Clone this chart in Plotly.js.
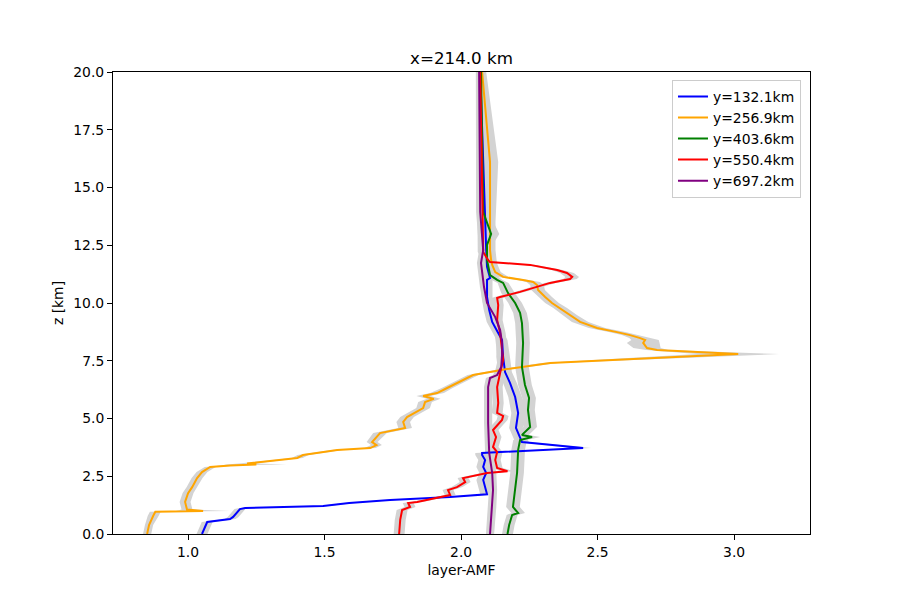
<!DOCTYPE html>
<html>
<head>
<meta charset="utf-8">
<script src="https://cdn.plot.ly/plotly-3.0.1.min.js"></script>
<style>html,body{margin:0;padding:0;background:#fff;}#chart{width:900px;height:600px;}</style>
</head>
<body>
<div id="chart"></div>
<script>
// ---- data ----
const seriesNames = ["y=132.1km", "y=256.9km", "y=403.6km", "y=550.4km", "y=697.2km"];
const seriesColors = ["blue", "orange", "green", "red", "purple"];

// y=132.1km
const blueZ = [0, 0.52, 0.65, 0.74, 1.08, 1.13, 1.21, 1.34, 1.47, 1.60, 1.72, 1.99, 2.34, 2.64, 2.90, 3.20, 3.42, 3.51, 3.72, 3.98, 4.37, 4.59, 5.24, 5.93, 6.54, 7.01, 7.66, 8.40, 8.70, 9.18, 9.70, 10.26, 11.00, 11.08, 11.56, 12.29, 20.0];
const blueAMF = [1.051, 1.070, 1.154, 1.165, 1.190, 1.209, 1.495, 1.590, 1.740, 1.960, 2.095, 2.088, 2.081, 2.092, 2.081, 2.088, 2.077, 2.077, 2.447, 2.223, 2.210, 2.201, 2.209, 2.198, 2.179, 2.161, 2.154, 2.150, 2.136, 2.114, 2.103, 2.095, 2.095, 2.106, 2.095, 2.092, 2.070];
const blueStd = [0.02, 0.02, 0.02, 0.02, 0.02, 0.02, 0.02, 0.02, 0.02, 0.02, 0.025, 0.025, 0.025, 0.025, 0.025, 0.025, 0.025, 0.025, 0.03, 0.025, 0.025, 0.025, 0.025, 0.025, 0.025, 0.025, 0.025, 0.02, 0.02, 0.02, 0.02, 0.02, 0.02, 0.02, 0.02, 0.02, 0.015];

// y=256.9km
const orangeZ = [0, 0.39, 0.78, 0.96, 1.00, 1.06, 1.39, 1.77, 2.03, 2.42, 2.68, 2.90, 2.97, 3.01, 3.05, 3.16, 3.29, 3.42, 3.64, 3.72, 3.85, 3.98, 4.37, 4.59, 4.85, 5.06, 5.45, 5.71, 5.85, 5.97, 6.10, 6.32, 6.88, 7.01, 7.14, 7.40, 7.79, 7.97, 8.05, 8.27, 8.40, 8.48, 8.61, 8.74, 8.92, 9.18, 9.48, 9.78, 10.00, 10.26, 10.56, 10.78, 10.91, 11.00, 11.13, 11.34, 11.65, 11.86, 12.29, 13.51, 16.10, 20.0];
const orangeAMF = [0.850, 0.857, 0.872, 0.880, 1.055, 0.996, 0.989, 1.000, 1.015, 1.033, 1.051, 1.081, 1.154, 1.250, 1.216, 1.300, 1.400, 1.421, 1.546, 1.667, 1.690, 1.674, 1.703, 1.795, 1.788, 1.802, 1.861, 1.868, 1.900, 1.861, 1.912, 1.949, 2.044, 2.106, 2.168, 2.326, 3.015, 2.718, 2.681, 2.667, 2.674, 2.656, 2.619, 2.571, 2.498, 2.436, 2.399, 2.363, 2.333, 2.308, 2.282, 2.278, 2.264, 2.227, 2.154, 2.125, 2.114, 2.110, 2.106, 2.106, 2.106, 2.077];
const orangeStd = [0.015, 0.015, 0.02, 0.02, 0.10, 0.02, 0.02, 0.02, 0.02, 0.02, 0.02, 0.02, 0.03, 0.11, 0.03, 0.02, 0.02, 0.02, 0.02, 0.02, 0.02, 0.02, 0.025, 0.025, 0.025, 0.025, 0.025, 0.025, 0.025, 0.025, 0.025, 0.02, 0.02, 0.02, 0.02, 0.03, 0.15, 0.04, 0.05, 0.06, 0.05, 0.04, 0.03, 0.03, 0.03, 0.03, 0.025, 0.025, 0.025, 0.025, 0.025, 0.025, 0.025, 0.02, 0.02, 0.02, 0.02, 0.02, 0.02, 0.02, 0.03, 0.015];

// y=403.6km
const greenZ = [0, 0.39, 0.82, 0.91, 1.17, 1.90, 2.64, 3.64, 4.07, 4.20, 4.29, 4.63, 5.37, 5.89, 6.45, 7.23, 8.27, 9.13, 9.57, 10.00, 10.43, 10.87, 11.00, 11.21, 11.86, 12.51, 12.99, 13.94, 20.0];
const greenAMF = [2.170, 2.176, 2.187, 2.209, 2.190, 2.198, 2.205, 2.209, 2.216, 2.260, 2.223, 2.253, 2.245, 2.249, 2.234, 2.223, 2.227, 2.223, 2.216, 2.198, 2.172, 2.154, 2.132, 2.106, 2.095, 2.095, 2.110, 2.081, 2.073];
const greenStd = [0.02, 0.02, 0.02, 0.025, 0.025, 0.025, 0.025, 0.025, 0.025, 0.03, 0.025, 0.025, 0.025, 0.025, 0.025, 0.025, 0.025, 0.025, 0.025, 0.025, 0.025, 0.02, 0.02, 0.02, 0.02, 0.02, 0.03, 0.02, 0.015];

// y=550.4km
const redZ = [0, 0.61, 1.04, 1.17, 1.34, 1.39, 1.69, 1.90, 2.03, 2.25, 2.42, 2.55, 2.64, 2.72, 2.86, 3.20, 3.55, 3.77, 4.20, 4.50, 4.94, 5.11, 5.24, 5.67, 6.36, 6.97, 7.53, 7.97, 8.70, 9.26, 9.91, 10.22, 10.26, 10.48, 10.69, 10.87, 11.04, 11.13, 11.30, 11.43, 11.65, 11.77, 11.86, 12.21, 20.0];
const redAMF = [1.773, 1.777, 1.784, 1.813, 1.806, 1.839, 1.960, 1.952, 1.985, 2.015, 2.007, 2.059, 2.095, 2.170, 2.132, 2.125, 2.132, 2.117, 2.128, 2.117, 2.150, 2.154, 2.132, 2.136, 2.132, 2.143, 2.154, 2.150, 2.143, 2.132, 2.136, 2.132, 2.143, 2.216, 2.278, 2.326, 2.399, 2.407, 2.388, 2.352, 2.253, 2.106, 2.099, 2.081, 2.070];
const redStd = [0.02, 0.02, 0.02, 0.02, 0.02, 0.02, 0.02, 0.02, 0.02, 0.02, 0.02, 0.02, 0.02, 0.025, 0.02, 0.02, 0.02, 0.02, 0.02, 0.02, 0.02, 0.02, 0.02, 0.02, 0.02, 0.02, 0.02, 0.02, 0.02, 0.02, 0.02, 0.02, 0.02, 0.02, 0.02, 0.02, 0.025, 0.025, 0.025, 0.02, 0.02, 0.02, 0.02, 0.02, 0.015];

// y=697.2km
const purpleZ = [0, 1.17, 1.90, 2.64, 3.51, 4.81, 6.36, 6.75, 6.88, 7.23, 7.75, 8.27, 8.83, 9.39, 9.78, 10.00, 10.69, 11.30, 11.73, 12.29, 13.94, 20.0];
const purpleAMF = [2.106, 2.114, 2.117, 2.114, 2.103, 2.099, 2.099, 2.106, 2.132, 2.147, 2.150, 2.150, 2.143, 2.125, 2.106, 2.095, 2.084, 2.077, 2.073, 2.081, 2.070, 2.066];
const purpleStd = [0.015, 0.015, 0.015, 0.015, 0.015, 0.015, 0.015, 0.015, 0.015, 0.015, 0.015, 0.015, 0.015, 0.015, 0.015, 0.015, 0.015, 0.015, 0.015, 0.015, 0.015, 0.012];

const xTicks = [1.0, 1.5, 2.0, 2.5, 3.0];
const yTicks = [0, 2.5, 5, 7.5, 10, 12.5, 15, 17.5, 20];

// ---- build traces ----
const zs = [blueZ, orangeZ, greenZ, redZ, purpleZ];
const vs = [blueAMF, orangeAMF, greenAMF, redAMF, purpleAMF];
const ss = [blueStd, orangeStd, greenStd, redStd, purpleStd];

const bands = [];
const lines = [];
for (let i = 0; i < zs.length; i++) {
  const z = zs[i], v = vs[i], s = ss[i];
  const lo = v.map((val, k) => val - s[k]);
  const hi = v.map((val, k) => val + s[k]);
  bands.push({
    x: lo.concat(hi.slice().reverse()),
    y: z.concat(z.slice().reverse()),
    mode: 'lines', fill: 'toself',
    fillcolor: 'rgb(211,211,211)',
    line: {width: 0, color: 'rgba(0,0,0,0)'},
    hoverinfo: 'skip', showlegend: false
  });
  lines.push({
    x: v, y: z, mode: 'lines', name: seriesNames[i],
    line: {color: seriesColors[i], width: 2}
  });
}

const font = {family: 'DejaVu Sans, sans-serif', size: 13.9, color: '#000'};
const axisCommon = {
  showgrid: false, zeroline: false,
  showline: true, linecolor: '#000', linewidth: 1, mirror: true,
  ticks: 'outside', ticklen: 5, tickwidth: 1, tickcolor: '#000',
  tickfont: font, tickformat: '.1f'
};

const layout = {
  width: 900, height: 600,
  margin: {l: 113, r: 90, t: 72, b: 66},
  paper_bgcolor: '#fff', plot_bgcolor: '#fff',
  font: font,
  title: {text: 'x=214.0 km', x: 0.5, xref: 'paper', y: 0.903, yref: 'container', yanchor: 'middle',
          font: {family: 'DejaVu Sans, sans-serif', size: 16.7, color: '#000'}},
  xaxis: Object.assign({}, axisCommon, {
    range: [0.725, 3.278], tickvals: xTicks,
    title: {text: 'layer-AMF', font: font, standoff: 6}
  }),
  yaxis: Object.assign({}, axisCommon, {
    range: [0, 20], tickvals: yTicks,
    title: {text: 'z [km]', font: font, standoff: 6}
  }),
  legend: {
    x: 0.802, y: 0.983, xanchor: 'left', yanchor: 'top',
    bgcolor: 'rgba(255,255,255,0.8)', bordercolor: '#cccccc', borderwidth: 1,
    font: font, tracegroupgap: 0
  },
  showlegend: true
};

Plotly.newPlot('chart', bands.concat(lines), layout, {displayModeBar: false, staticPlot: true});
</script>
</body>
</html>
